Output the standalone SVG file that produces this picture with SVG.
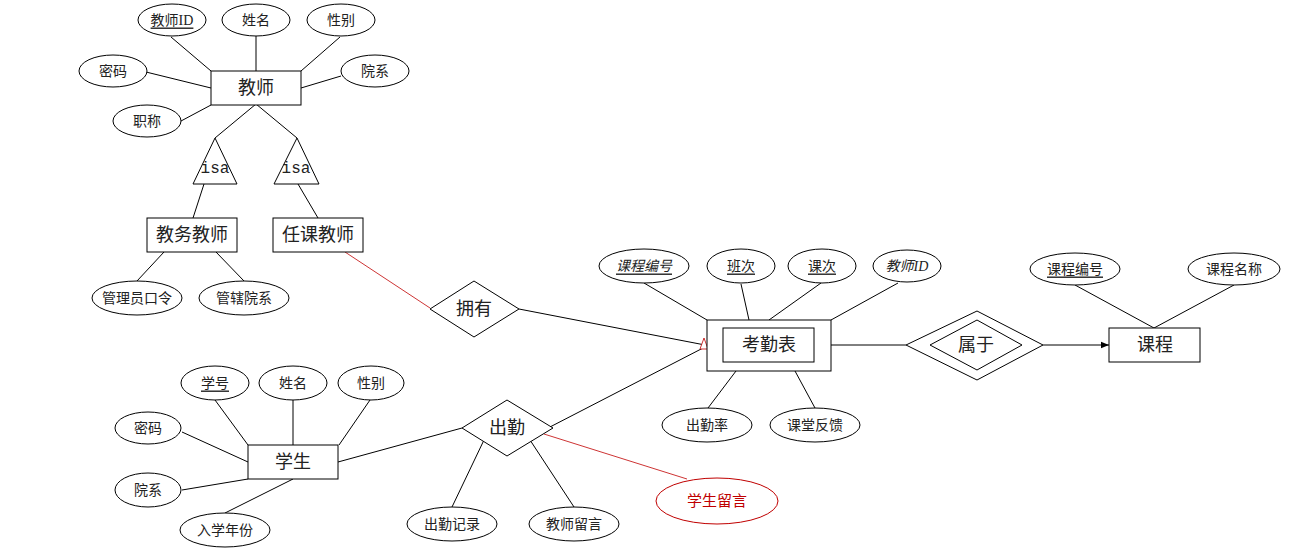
<svg xmlns="http://www.w3.org/2000/svg" width="1290" height="549" viewBox="0 0 1290 549">
<defs>
<style>
.s{fill:#fff;stroke:#000;stroke-width:1}
.l{stroke:#000;stroke-width:1;fill:none}
.r{stroke:#c00000;stroke-width:0.8;fill:none}
text{font-family:"Liberation Serif","Noto Sans CJK SC",serif;text-anchor:middle;dominant-baseline:central;fill:#222}
.big{font-size:18px}
.sm{font-size:14px}
.u{text-decoration:underline}
.i{font-style:italic}
.isa{font-family:"Liberation Mono",monospace;font-size:16px}
</style>
<marker id="ah" viewBox="0 0 10 10" refX="10" refY="5" markerWidth="8" markerHeight="8" markerUnits="userSpaceOnUse" orient="auto"><path d="M0,1 L10,5 L0,9 z" fill="#000"/></marker>
</defs>
<g id="connectors">
<line class="l" x1="171" y1="37" x2="211" y2="71"/>
<line class="l" x1="256" y1="35" x2="256" y2="71"/>
<line class="l" x1="340" y1="37" x2="301" y2="71"/>
<line class="l" x1="146" y1="72" x2="211" y2="88"/>
<line class="l" x1="341" y1="76" x2="301" y2="88"/>
<line class="l" x1="181" y1="121" x2="211" y2="105"/>
<line class="l" x1="256" y1="104" x2="215" y2="138"/>
<line class="l" x1="256" y1="104" x2="297" y2="138"/>
<line class="l" x1="204" y1="184" x2="193" y2="218"/>
<line class="l" x1="298" y1="184" x2="318" y2="218"/>
<line class="l" x1="164" y1="252" x2="137" y2="281"/>
<line class="l" x1="216" y1="252" x2="244" y2="281"/>
<line class="r" x1="345" y1="252" x2="430" y2="308"/>
<line class="l" x1="519" y1="309" x2="705" y2="345"/>
<line class="l" x1="548" y1="428" x2="705" y2="347"/>
<polygon points="704,338 700,349 708,349" fill="#fff" stroke="#c00000" stroke-width="0.8"/>
<line class="l" x1="644" y1="283" x2="707" y2="320"/>
<line class="l" x1="741" y1="284" x2="749" y2="320"/>
<line class="l" x1="821" y1="283" x2="769" y2="320"/>
<line class="l" x1="898" y1="283" x2="831" y2="320"/>
<line class="l" x1="736" y1="371" x2="708" y2="408"/>
<line class="l" x1="795" y1="371" x2="815" y2="408"/>
<line class="l" x1="831" y1="345" x2="906" y2="345"/>
<line class="l" x1="1043" y1="345" x2="1109" y2="345" marker-end="url(#ah)"/>
<line class="l" x1="1075" y1="285" x2="1154" y2="328"/>
<line class="l" x1="1234" y1="285" x2="1154" y2="328"/>
<line class="l" x1="215" y1="400" x2="248" y2="445"/>
<line class="l" x1="293" y1="400" x2="293" y2="445"/>
<line class="l" x1="370" y1="400" x2="339" y2="445"/>
<line class="l" x1="182" y1="432" x2="248" y2="462"/>
<line class="l" x1="182" y1="490" x2="248" y2="479"/>
<line class="l" x1="225" y1="513" x2="293" y2="479"/>
<line class="l" x1="338" y1="462" x2="462" y2="428"/>
<line class="l" x1="484" y1="440" x2="452" y2="507"/>
<line class="l" x1="530" y1="440" x2="574" y2="507"/>
<line class="r" x1="544" y1="434" x2="687" y2="479"/>
</g>
<g id="teacher"><rect class="s" x="211" y="71" width="90" height="34"/><text class="big" x="256" y="88">教师</text></g>
<g id="t-id"><ellipse class="s" cx="172" cy="20" rx="34" ry="16"/><text class="sm u" x="172" y="20">教师ID</text></g>
<g id="t-name"><ellipse class="s" cx="256" cy="20" rx="34" ry="16"/><text class="sm" x="256" y="20">姓名</text></g>
<g id="t-sex"><ellipse class="s" cx="341" cy="20" rx="34" ry="16"/><text class="sm" x="341" y="20">性别</text></g>
<g id="t-pwd"><ellipse class="s" cx="113" cy="71" rx="34" ry="16"/><text class="sm" x="113" y="71">密码</text></g>
<g id="t-dept"><ellipse class="s" cx="375" cy="71" rx="34" ry="16"/><text class="sm" x="375" y="71">院系</text></g>
<g id="t-title"><ellipse class="s" cx="147" cy="121" rx="34" ry="16"/><text class="sm" x="147" y="121">职称</text></g>
<g id="isa1"><polygon class="s" points="215,138 193,184 237,184"/><text class="isa" x="215" y="169">isa</text></g>
<g id="isa2"><polygon class="s" points="297,138 274,184 319,184"/><text class="isa" x="296" y="169">isa</text></g>
<g id="admin"><rect class="s" x="147" y="218" width="90" height="34"/><text class="big" x="192" y="235">教务教师</text></g>
<g id="lecturer"><rect class="s" x="273" y="218" width="90" height="34"/><text class="big" x="318" y="235">任课教师</text></g>
<g id="a-pwd"><ellipse class="s" cx="137" cy="298" rx="45" ry="17"/><text class="sm" x="137" y="298">管理员口令</text></g>
<g id="a-dept"><ellipse class="s" cx="244" cy="298" rx="45" ry="17"/><text class="sm" x="244" y="298">管辖院系</text></g>
<g id="own"><polygon class="s" points="430,309 474,281 519,309 474,337"/><text class="big" x="474" y="309">拥有</text></g>
<g id="attendance-table"><rect class="s" x="707" y="320" width="124" height="51"/><rect class="s" x="723" y="328" width="91" height="34"/><text class="big" x="769" y="345">考勤表</text></g>
<g id="k-course"><ellipse class="s" cx="644" cy="266" rx="45" ry="17"/><text class="sm u i" x="644" y="266">课程编号</text></g>
<g id="k-class"><ellipse class="s" cx="741" cy="266" rx="34" ry="17"/><text class="sm u" x="741" y="266">班次</text></g>
<g id="k-lesson"><ellipse class="s" cx="822" cy="266" rx="34" ry="17"/><text class="sm u" x="822" y="266">课次</text></g>
<g id="k-tid"><ellipse class="s" cx="907" cy="266" rx="34" ry="16"/><text class="sm i" x="907" y="266">教师ID</text></g>
<g id="k-rate"><ellipse class="s" cx="707" cy="425" rx="45" ry="17"/><text class="sm" x="707" y="425">出勤率</text></g>
<g id="k-feedback"><ellipse class="s" cx="815" cy="425" rx="45" ry="17"/><text class="sm" x="815" y="425">课堂反馈</text></g>
<g id="belong"><polygon class="s" points="906,345 977,311 1043,345 977,380"/><polygon class="s" points="930,345 977,320 1022,345 977,370"/><text class="big" x="976" y="345">属于</text></g>
<g id="course"><rect class="s" x="1109" y="328" width="91" height="34"/><text class="big" x="1155" y="345">课程</text></g>
<g id="c-no"><ellipse class="s" cx="1075" cy="269" rx="45" ry="16"/><text class="sm u" x="1075" y="269">课程编号</text></g>
<g id="c-name"><ellipse class="s" cx="1234" cy="269" rx="46" ry="16"/><text class="sm" x="1234" y="269">课程名称</text></g>
<g id="student"><rect class="s" x="248" y="445" width="90" height="34"/><text class="big" x="293" y="462">学生</text></g>
<g id="s-no"><ellipse class="s" cx="215" cy="383" rx="34" ry="17"/><text class="sm u" x="215" y="383">学号</text></g>
<g id="s-name"><ellipse class="s" cx="293" cy="383" rx="34" ry="17"/><text class="sm" x="293" y="383">姓名</text></g>
<g id="s-sex"><ellipse class="s" cx="371" cy="383" rx="33" ry="17"/><text class="sm" x="371" y="383">性别</text></g>
<g id="s-pwd"><ellipse class="s" cx="148" cy="428" rx="33" ry="16"/><text class="sm" x="148" y="428">密码</text></g>
<g id="s-dept"><ellipse class="s" cx="148" cy="490" rx="33" ry="17"/><text class="sm" x="148" y="490">院系</text></g>
<g id="s-year"><ellipse class="s" cx="225" cy="530" rx="45" ry="17"/><text class="sm" x="225" y="530">入学年份</text></g>
<g id="attend"><polygon class="s" points="462,428 507,400 553,428 507,456"/><text class="big" x="507" y="428">出勤</text></g>
<g id="d-record"><ellipse class="s" cx="452" cy="524" rx="45" ry="17"/><text class="sm" x="452" y="524">出勤记录</text></g>
<g id="d-tmsg"><ellipse class="s" cx="574" cy="524" rx="45" ry="17"/><text class="sm" x="574" y="524">教师留言</text></g>
<g id="d-smsg"><ellipse cx="717" cy="501" rx="61" ry="23" fill="#fff" stroke="#c00000" stroke-width="1"/><text x="717" y="501" style="font-size:15px;fill:#c00000">学生留言</text></g>
</svg>
